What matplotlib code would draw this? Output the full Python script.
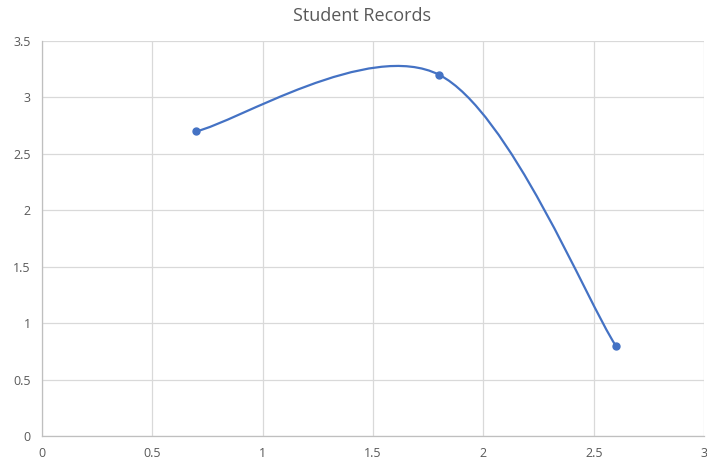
import matplotlib
matplotlib.use('Agg')
import numpy as np
import matplotlib.pyplot as plt
from matplotlib.path import Path
from matplotlib.patches import PathPatch

x_values = [0.7, 1.8, 2.6]
y_values = [2.7, 3.2, 0.8]
title = 'Student Records'

x_ticks = [0, 0.5, 1, 1.5, 2, 2.5, 3]
x_tick_labels = ['0', '0.5', '1', '1.5', '2', '2.5', '3']
y_ticks = [0, 0.5, 1, 1.5, 2, 2.5, 3, 3.5]
y_tick_labels = ['0', '0.5', '1', '1.5', '2', '2.5', '3', '3.5']

LINE_COLOR = '#4472C4'
TEXT_COLOR = '#595959'


def smooth_path(xs, ys):
    # cubic bezier segments through the points (catmull-rom style tangents)
    pts = np.column_stack([xs, ys])
    padded = np.vstack([pts[0], pts, pts[-1]])
    verts = [pts[0]]
    codes = [Path.MOVETO]
    for i in range(len(pts) - 1):
        p0, p1, p2, p3 = padded[i], padded[i + 1], padded[i + 2], padded[i + 3]
        c1 = p1 + (p2 - p0) / 6
        c2 = p2 - (p3 - p1) / 6
        verts += [c1, c2, p2]
        codes += [Path.CURVE4] * 3
    return Path(verts, codes)


plt.rcParams['font.family'] = ['Open Sans', 'DejaVu Sans']

fig = plt.figure(figsize=(7.07, 4.62), dpi=100)
ax = fig.add_axes([0.0594, 0.0563, 0.9364, 0.855])

ax.add_patch(PathPatch(smooth_path(x_values, y_values), facecolor='none',
                       edgecolor=LINE_COLOR, linewidth=1.6, zorder=3))
ax.plot(x_values, y_values, linestyle='none', marker='o', markersize=5,
        color=LINE_COLOR, zorder=4)

ax.set_xlim(0, 3)
ax.set_ylim(0, 3.5)
ax.set_xticks(x_ticks)
ax.set_xticklabels(x_tick_labels)
ax.set_yticks(y_ticks)
ax.set_yticklabels(y_tick_labels)
ax.tick_params(length=0, labelsize=9, labelcolor=TEXT_COLOR, pad=8)
ax.grid(True, color='#D9D9D9', linewidth=0.9)
ax.set_axisbelow(True)

for side in ['top', 'right']:
    ax.spines[side].set_visible(False)
for side in ['left', 'bottom']:
    ax.spines[side].set_color('#BFBFBF')
    ax.spines[side].set_linewidth(0.9)

fig.text(0.512, 0.965, title, ha='center', va='center', fontsize=13,
         color=TEXT_COLOR)

fig.savefig('out.png', dpi=100)
